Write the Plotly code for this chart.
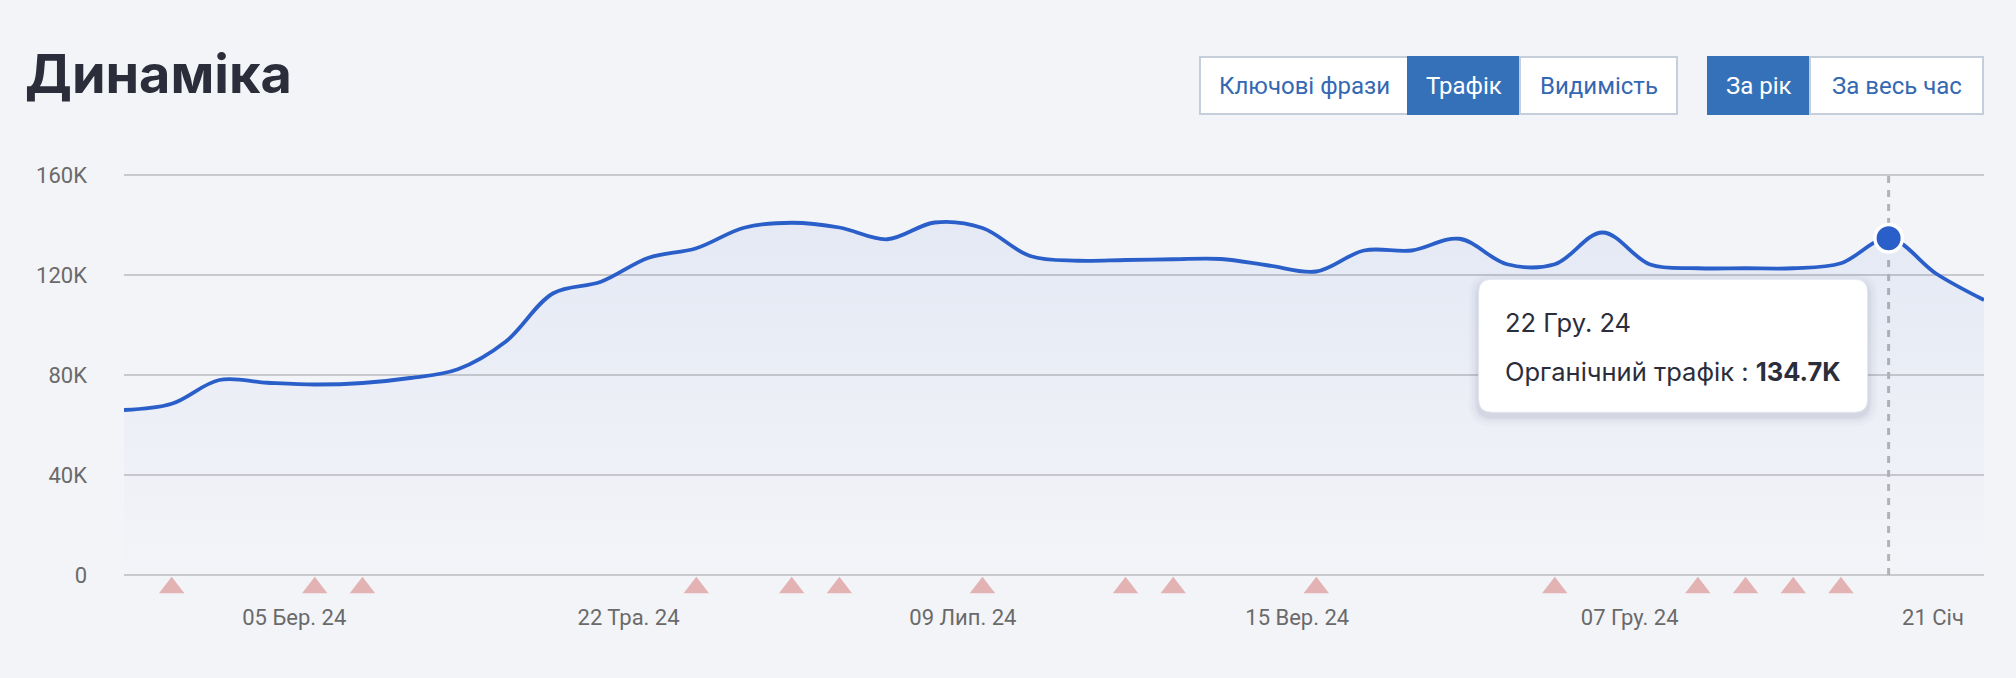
import plotly.graph_objects as go

# ---------------- data ----------------
traffic_k = [66.0, 68.5, 78.0, 76.9, 76.2, 76.8, 78.8, 82.3, 93.3, 112.7,
             117.3, 126.9, 130.7, 138.9, 140.9, 139.0, 134.3, 141.0, 138.8, 127.6,
             125.7, 126.0, 126.3, 126.4, 123.8, 121.4, 129.8, 129.8, 134.5, 124.3,
             124.3, 137.0, 124.2, 122.7, 122.7, 122.7, 124.7, 134.7, 120.5, 110.0]
traffic = [v * 1000 for v in traffic_k]
idx = list(range(len(traffic)))

event_idx = [1, 4, 5, 12, 14, 15, 18, 21, 22, 25, 30, 33, 34, 35, 36]

x_tick_pos = [3.57, 10.58, 17.59, 24.6, 31.57, 37.93]
x_tick_labels = ["05 Бер. 24", "22 Тра. 24", "09 Лип. 24", "15 Вер. 24", "07 Гру. 24", "21 Січ"]
y_tick_vals = [0, 40000, 80000, 120000, 160000]
y_tick_labels = ["0", "40K", "80K", "120K", "160K"]

hover_index = 37
hover_date = "22 Гру. 24"
hover_series = "Органічний трафік"

metric_buttons = ["Ключові фрази", "Трафік", "Видимість"]
metric_active = "Трафік"
period_buttons = ["За рік", "За весь час"]
period_active = "За рік"

title = "Динаміка"

# ---------------- layout geometry (pixels) ----------------
W, H = 2016, 678
L, R, T, B = 124, 1984, 175, 575      # main value area
BP = 600                               # paper bottom (room for event markers)
YMAX = 160000
PAD_PX = 3                             # keep edge gridlines away from the clip edge
YPAD = PAD_PX * YMAX / (B - T)
BG = "#f3f4f8"
BLUE = "#2a5fc9"
BTN_BLUE = "#3571b8"
GRID = "#c9c9cc"
TXT_GRAY = "#6a6a6a"

T_eff = T - PAD_PX
B_eff = B + PAD_PX


def px(xp):
    return (xp - L) / (R - L)


def py(yp):
    return (BP - yp) / (BP - T_eff)


def round_rect(x0, y0, x1, y1, r):
    pts = [
        ("M", [(x0 + r, y0)]),
        ("L", [(x1 - r, y0)]),
        ("Q", [(x1, y0), (x1, y0 + r)]),
        ("L", [(x1, y1 - r)]),
        ("Q", [(x1, y1), (x1 - r, y1)]),
        ("L", [(x0 + r, y1)]),
        ("Q", [(x0, y1), (x0, y1 - r)]),
        ("L", [(x0, y0 + r)]),
        ("Q", [(x0, y0), (x0 + r, y0)]),
    ]
    s = ""
    for cmd, ps in pts:
        s += cmd + " " + " ".join(f"{px(a):.6f},{py(b):.6f}" for a, b in ps) + " "
    return s + "Z"


fig = go.Figure()

# area + line
fig.add_trace(go.Scatter(
    x=idx, y=traffic, mode="lines",
    line=dict(color=BLUE, width=3.8, shape="spline", smoothing=1.0),
    fill="tozeroy",
    fillgradient=dict(type="vertical", start=0, stop=145000,
                      colorscale=[[0, "rgba(42,95,201,0.0)"], [1, "rgba(42,95,201,0.075)"]]),
    hoverinfo="skip", showlegend=False,
))

# event triangles under the axis (own strip axis)
fig.add_trace(go.Scatter(
    x=event_idx, y=[0.56] * len(event_idx), mode="markers", yaxis="y2",
    marker=dict(symbol="triangle-up", size=22, color="#e3b3b3"),
    cliponaxis=False, hoverinfo="skip", showlegend=False,
))

# highlighted point
hv = traffic[hover_index]
fig.add_trace(go.Scatter(
    x=[hover_index], y=[hv], mode="markers",
    marker=dict(size=27.5, color=BLUE, line=dict(color="white", width=3.5)),
    cliponaxis=False, hoverinfo="skip", showlegend=False,
))

shapes = []
annotations = []

# dashed crosshair
shapes.append(dict(type="line", xref="x", yref="y", x0=hover_index, x1=hover_index,
                   y0=0, y1=YMAX, line=dict(color="#b3b3b6", width=3, dash="7px,7px"),
                   layer="between"))

# tooltip
pt_x = L + hover_index * (R - L) / (len(traffic) - 1)
pt_y = B - hv / YMAX * (B - T)
bx1 = pt_x - 21
by0 = pt_y + 41
bx0 = bx1 - 389
by1 = by0 + 133
for k, a in [(10, 0.018), (7, 0.025), (4, 0.035), (2, 0.045)]:
    shapes.append(dict(type="path", xref="paper", yref="paper",
                       path=round_rect(bx0 - k, by0 - k + 4, bx1 + k, by1 + k + 4, 13 + k),
                       fillcolor=f"rgba(40,50,90,{a})", line=dict(width=0), layer="above"))
shapes.append(dict(type="path", xref="paper", yref="paper",
                   path=round_rect(bx0, by0, bx1, by1, 13),
                   fillcolor="white", line=dict(color="#e2e6ee", width=1), layer="above"))
annotations.append(dict(xref="paper", yref="paper", x=px(bx0 + 24), y=py(by0 + 43),
                        xanchor="left", yanchor="middle", showarrow=False,
                        text=hover_date, font=dict(family="Inter", size=25.5, color="#2b2d3a")))
annotations.append(dict(xref="paper", yref="paper", x=px(bx0 + 24), y=py(by0 + 92),
                        xanchor="left", yanchor="middle", showarrow=False,
                        text=f"{hover_series} : <b>{hv / 1000:.1f}K</b>",
                        font=dict(family="Inter", size=25.5, color="#2b2d3a")))

# title
annotations.append(dict(xref="paper", yref="paper", x=px(23), y=py(74),
                        xanchor="left", yanchor="middle", showarrow=False,
                        text=title, font=dict(family="Inter", size=54, color="#2b2d3a", weight=700)))


# buttons
def add_group(labels, active, edges, y0, y1):
    for i, lab in enumerate(labels):
        x0, x1 = edges[i], edges[i + 1]
        on = lab == active
        shapes.append(dict(type="rect", xref="paper", yref="paper",
                           x0=px(x0), x1=px(x1), y0=py(y1), y1=py(y0),
                           fillcolor=BTN_BLUE if on else "white",
                           line=dict(color=BTN_BLUE if on else "#c5cedb", width=2)))
        annotations.append(dict(xref="paper", yref="paper", x=px((x0 + x1) / 2), y=py((y0 + y1) / 2),
                                xanchor="center", yanchor="middle", showarrow=False, text=lab,
                                font=dict(family="Roboto", size=24, weight=400,
                                          color="white" if on else "#3468b2")))


add_group(metric_buttons, metric_active, [1200, 1408, 1520, 1677], 57, 114)
add_group(period_buttons, period_active, [1708, 1810, 1983], 57, 114)

split = (BP - B_eff) / (BP - T_eff)

fig.update_layout(
    width=W, height=H, autosize=False,
    margin=dict(l=L, r=W - R, t=T_eff, b=H - BP, pad=0),
    paper_bgcolor=BG, plot_bgcolor=BG,
    shapes=shapes, annotations=annotations,
    showlegend=False, hovermode=False,
    xaxis=dict(range=[0, len(traffic) - 1], tickvals=x_tick_pos, ticktext=x_tick_labels,
               anchor="y", showgrid=False, zeroline=False, showline=False, ticks="",
               ticklabelstandoff=24,
               tickfont=dict(family="Roboto", size=22, color=TXT_GRAY), fixedrange=True),
    yaxis=dict(domain=[split, 1], range=[-YPAD, YMAX + YPAD], tickvals=y_tick_vals,
               ticktext=y_tick_labels,
               showgrid=True, gridcolor=GRID, gridwidth=1.5, zeroline=False, showline=False,
               ticks="", ticklabelstandoff=36,
               tickfont=dict(family="Roboto", size=22, color=TXT_GRAY), fixedrange=True),
    yaxis2=dict(domain=[0, split], range=[0, 1], visible=False, fixedrange=True),
)

fig.write_html("out.html")
